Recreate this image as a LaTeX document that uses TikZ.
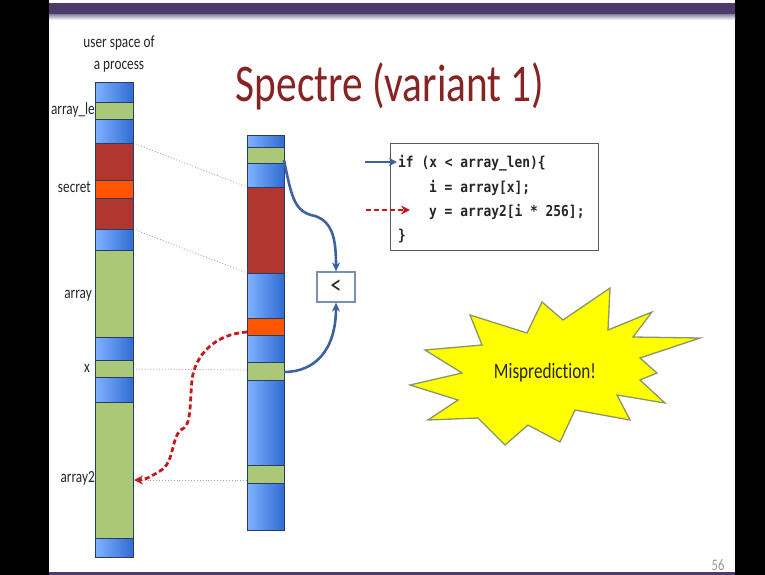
\documentclass[tikz,border=0pt]{standalone}
\usepackage{fontspec}
\setmainfont{Carlito}[FakeStretch=0.78, Ligatures=NoCommon]
\newfontfamily\codefont{DejaVu Sans Mono}[FakeStretch=0.86]
\usetikzlibrary{arrows.meta,calc}
\definecolor{purp}{RGB}{75,58,106}
\definecolor{bluL}{RGB}{128,178,255}
\definecolor{bluR}{RGB}{48,108,210}
\definecolor{grn}{RGB}{170,200,120}
\definecolor{redseg}{RGB}{175,55,48}
\definecolor{orng}{RGB}{255,85,0}
\definecolor{segline}{RGB}{40,60,100}
\definecolor{titlered}{RGB}{135,35,35}
\definecolor{arrblue}{RGB}{62,98,160}
\definecolor{dashred}{RGB}{200,25,25}
\definecolor{burstline}{RGB}{140,150,100}
\definecolor{burstfill}{RGB}{255,255,0}
\definecolor{cmpline}{RGB}{120,145,175}
\tikzset{
  seg/.style={rectangle, inner sep=0pt, outer sep=0pt, anchor=north west, draw=segline, line width=1pt},
  bseg/.style={seg, left color=bluL, right color=bluR},
  gseg/.style={seg, fill=grn},
  rseg/.style={seg, fill=redseg},
  oseg/.style={seg, fill=orng},
  lab/.style={font=\fontsize{17}{20}\selectfont, text=black!85, inner sep=0pt},
  guide/.style={draw=black!35, dotted, line width=0.9pt},
  bluearrow/.style={draw=arrblue, line width=2.6pt, -{Stealth[length=9pt,width=8pt]}},
  reddash/.style={draw=dashred, line width=2.8pt, dash pattern=on 5pt off 3pt, -{Stealth[length=9pt,width=9pt]}},
  codeline/.style={font=\codefont\bfseries\fontsize{15}{18}\selectfont, text=black!85, inner sep=0pt, anchor=base west},
}
\newcommand\Lseg[4]{\node[#2, minimum width=38pt, minimum height=#4pt-#3pt] (#1) at (95,#3) {};}
\newcommand\Rseg[4]{\node[#2, minimum width=37pt, minimum height=#4pt-#3pt] (#1) at (247,#3) {};}
\begin{document}
\begin{tikzpicture}[x=1pt,y=-1pt]
\useasboundingbox (0,0) rectangle (765,575);
\fill[white] (0,0) rectangle (765,575);
% frame
\fill[black] (0,0) rectangle (49,575);
\fill[black] (735,0) rectangle (765,575);
\fill[purp] (49,3) rectangle (735,15);
\shade[top color=purp!55, bottom color=white] (49,15) rectangle (735,20);
\fill[purp] (49,572) rectangle (735,575);

% title
\node[font=\fontsize{53}{58}\selectfont, text=titlered, anchor=base, inner sep=0pt] (title) at (390,102) {Spectre (variant 1)};

% guide lines
\coordinate (g1a) at (133,143); \coordinate (g1b) at (247,187);
\coordinate (g2a) at (133,229); \coordinate (g2b) at (247,273);
\coordinate (g3a) at (133,369); \coordinate (g3b) at (247,370);
\coordinate (g4a) at (133,480); \coordinate (g4b) at (247,480);
\draw[guide] (g1a) -- (g1b);
\draw[guide] (g2a) -- (g2b);
\draw[guide] (g3a) -- (g3b);
\draw[guide] (g4a) -- (g4b);

% left bar
\Lseg{lb1}{bseg}{83}{103}
\Lseg{lg1}{gseg}{103}{120}
\Lseg{lb2}{bseg}{120}{143}
\Lseg{lr1}{rseg}{143}{180}
\Lseg{lo}{oseg}{180}{198}
\Lseg{lr2}{rseg}{198}{229}
\Lseg{lb3}{bseg}{229}{250}
\Lseg{larr}{gseg}{250}{337}
\Lseg{lb4}{bseg}{337}{360}
\Lseg{lx}{gseg}{360}{377}
\Lseg{lb5}{bseg}{377}{402}
\Lseg{larr2}{gseg}{402}{538}
\Lseg{lb6}{bseg}{538}{557}

% right bar
\Rseg{rb1}{bseg}{135}{147}
\Rseg{rg1}{gseg}{147}{163}
\Rseg{rb2}{bseg}{163}{187}
\Rseg{rr}{rseg}{187}{273}
\Rseg{rb3}{bseg}{273}{318}
\Rseg{ro}{oseg}{318}{335}
\Rseg{rb4}{bseg}{335}{362}
\Rseg{rx}{gseg}{362}{380}
\Rseg{rb5}{bseg}{380}{465}
\Rseg{rg2}{gseg}{465}{483}
\Rseg{rb6}{bseg}{483}{530}

% labels
\node[lab] (us1) at (119,43) {user space of};
\node[lab] (us2) at (119,67) {a process};
\node[lab, anchor=east] (l1) at (95,110) {array\_le};
\node[lab, anchor=east] (l2) at (91,187) {secret};
\node[lab, anchor=east] (l3) at (92,296) {array};
\node[lab, anchor=east] (l4) at (90,368) {x};
\node[lab, anchor=east] (l5) at (95,478) {array2};

% comparator
\node[draw=cmpline, line width=1.2pt, fill=white, minimum width=38pt, minimum height=30pt, inner sep=0pt, font=\fontsize{28}{28}\selectfont, text=black!85] (cmp) at (336,287) {<};
\coordinate (s1) at (284,160);
\coordinate (s2) at (284,372);
\draw[bluearrow] (s1) .. controls (292,200) and (295,212) .. (315,216) .. controls (333,222) and (336,240) .. (cmp.north);
\draw[bluearrow] (s2) .. controls (315,372) and (336,350) .. (cmp.south);

% code box
\node[draw=black!65, line width=1.3pt, fill=white, minimum width=208pt, minimum height=107pt, anchor=north west] (code) at (390,143) {};
\node[codeline] (c1) at (398,167) {if (x < array\_len)\{};
\node[codeline] (c2) at (429,192) {i = array[x];};
\node[codeline] (c3) at (429,216) {y = array2[i * 256];};
\node[codeline] (c4) at (398,240) {\}};
\coordinate (ba) at (365,162); \coordinate (bb) at (397,162);
\draw[bluearrow, line width=2.2pt, -{Stealth[length=8pt,width=8pt]}] (ba) -- (bb);
\coordinate (ra) at (366,210); \coordinate (rb) at (410,210);
\draw[reddash] (ra) -- (rb);

% red dashed curve
\coordinate (rs) at (247,332);
\coordinate (re) at (134,480);
\draw[reddash] (rs) .. controls (215,334) and (195,355) .. (192,380) .. controls (190,400) and (191,424) .. (184,428) .. controls (170,434) and (176,462) .. (160,471) .. controls (150,477) and (145,480) .. (re);

% burst
\draw[fill=burstfill, draw=burstline, line width=1.3pt, line join=miter]
 (410,385) -- (462,373) -- (425,350) -- (482,345) -- (470,315) -- (527,333) -- (542,302) -- (563,320)
 -- (610,288) -- (608,330) -- (652,312) -- (633,337) -- (700,338) -- (640,358) -- (657,373) -- (640,380)
 -- (665,403) -- (617,395) -- (630,420) -- (575,410) -- (560,442) -- (528,425) -- (505,445) -- (478,418)
 -- (428,420) -- (458,400) -- cycle;
\node[font=\fontsize{22}{24}\selectfont, text=black!85] (mis) at (545,373) {Misprediction!};

% slide number
\node[font=\fontsize{16}{18}\selectfont, text=black!40] (num) at (718,565) {56};
\end{tikzpicture}
\end{document}
